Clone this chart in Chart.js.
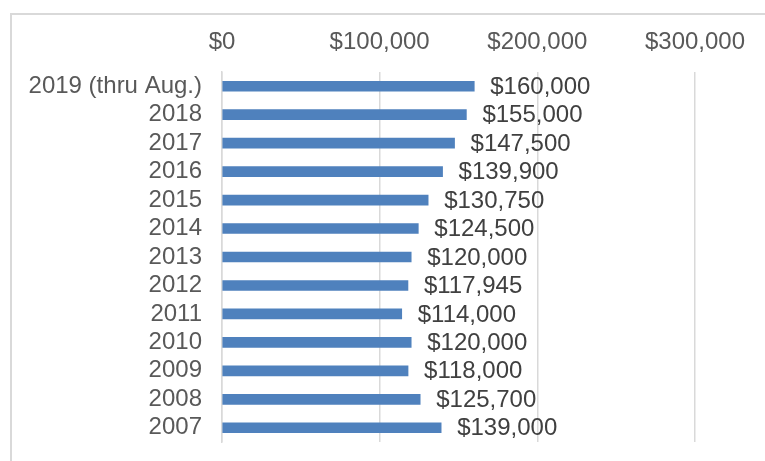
<!DOCTYPE html>
<html>
<head>
<meta charset="utf-8">
<script src="https://cdn.jsdelivr.net/npm/chart.js@4"></script>
<style>
  html, body { margin: 0; padding: 0; background: #fff; }
  #wrap { width: 765px; height: 461px; }
</style>
</head>
<body>
<div id="wrap"><canvas id="prices"></canvas></div>
<script>
// years, newest at the top
const years = ["2019 (thru Aug.)", "2018", "2017", "2016", "2015", "2014", "2013",
               "2012", "2011", "2010", "2009", "2008", "2007"];
// median price for each year
const prices = [160000, 155000, 147500, 139900, 130750, 124500, 120000,
                117945, 114000, 120000, 118000, 125700, 139000];
// x axis ticks
const tickValues = [0, 100000, 200000, 300000];

const money = v => "$" + v.toLocaleString("en-US");

// light gray frame round the chart, like the spreadsheet chart box
const frame = {
    id: 'frame',
    beforeDraw(chart) {
        const c = chart.ctx;
        c.save();
        c.strokeStyle = '#d9d9d9';
        c.lineWidth = 2;
        c.strokeRect(11, 14, 900, 600);
        c.restore();
    }
};

// value labels at the end of each bar
const valueLabels = {
    id: 'valueLabels',
    afterDatasetsDraw(chart) {
        const c = chart.ctx;
        const meta = chart.getDatasetMeta(0);
        c.save();
        c.font = '24px "Liberation Sans", Arial, sans-serif';
        c.fillStyle = '#404040';
        c.textAlign = 'left';
        c.textBaseline = 'middle';
        meta.data.forEach((bar, i) => {
            c.fillText(money(prices[i]), bar.x + 16, bar.y + 1);
        });
        c.restore();
    }
};

const ctx = document.getElementById("prices");
let chart = new Chart(ctx, {
    type: 'bar',
    data: {
        labels: years,
        datasets: [{
            data: prices,
            backgroundColor: '#4f81bd',
            barThickness: 10
        }]
    },
    plugins: [frame, valueLabels],
    options: {
        indexAxis: 'y',
        responsive: true,
        maintainAspectRatio: false,
        animation: false,
        layout: { padding: { left: 0, right: 70, top: 0, bottom: 19 } },
        plugins: {
            legend: { display: false },
            tooltip: { enabled: false }
        },
        scales: {
            x: {
                position: 'top',
                min: 0,
                max: 300000,
                afterBuildTicks(scale) {
                    scale.ticks = tickValues.map(v => ({ value: v }));
                },
                afterFit(scale) { scale.height = 72; },
                grid: { color: '#d9d9d9', lineWidth: 1.5, drawTicks: false },
                border: { display: false },
                ticks: {
                    padding: 15,
                    color: '#595959',
                    font: { family: '"Liberation Sans", Arial, sans-serif', size: 24 },
                    callback: v => money(v)
                }
            },
            y: {
                afterFit(scale) {
                    scale.width = 222;
                    scale.paddingTop = 0;
                    scale.paddingBottom = 0;
                },
                grid: { display: false, drawTicks: false },
                border: { display: true, color: '#d9d9d9', width: 1.5 },
                ticks: {
                    autoSkip: false,
                    padding: 20,
                    color: '#595959',
                    font: { family: '"Liberation Sans", Arial, sans-serif', size: 24 }
                }
            }
        }
    }
});
</script>
</body>
</html>
